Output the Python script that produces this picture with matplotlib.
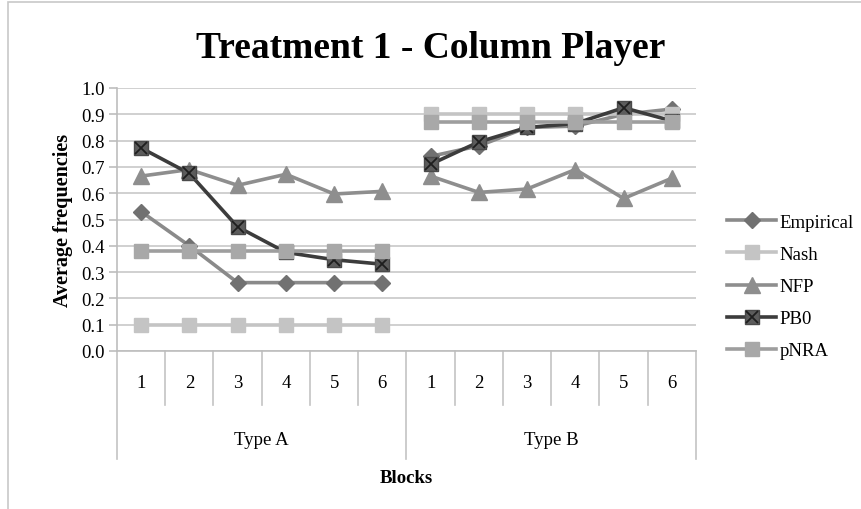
import matplotlib
matplotlib.use("Agg")
import matplotlib.pyplot as plt
from matplotlib.lines import Line2D
from matplotlib.patches import Rectangle
from matplotlib.legend_handler import HandlerTuple
import numpy as np

plt.rcParams["font.family"] = ["Liberation Serif", "DejaVu Serif"]

# average frequencies per block, type A then type B
blocks = ["1", "2", "3", "4", "5", "6"]
groups = ["Type A", "Type B"]

empirical_a = [0.53, 0.40, 0.26, 0.26, 0.26, 0.26]
empirical_b = [0.74, 0.78, 0.85, 0.855, 0.90, 0.92]
nash_a = [0.10, 0.10, 0.10, 0.10, 0.10, 0.10]
nash_b = [0.90, 0.90, 0.90, 0.90, 0.90, 0.90]
nfp_a = [0.665, 0.69, 0.63, 0.672, 0.597, 0.607]
nfp_b = [0.665, 0.603, 0.616, 0.69, 0.58, 0.657]
pb0_a = [0.772, 0.675, 0.472, 0.375, 0.347, 0.33]
pb0_b = [0.71, 0.795, 0.85, 0.865, 0.925, 0.875]
pnra_a = [0.38, 0.38, 0.38, 0.38, 0.38, 0.38]
pnra_b = [0.87, 0.87, 0.87, 0.87, 0.87, 0.87]

FS = 13.5

fig = plt.figure(figsize=(8.62, 5.10), dpi=100)
fig.patches.append(Rectangle((8 / 862, -0.01), 1.0, 1.0 - 3 / 510 + 0.01,
                             transform=fig.transFigure, fill=False,
                             edgecolor="#c8c8c8", linewidth=1.2))
ax = fig.add_axes([117 / 862, 158 / 510, 579 / 862, 263 / 510])

n = len(blocks)
xa = np.arange(n)
xb = np.arange(n) + n

styles = {
    "Empirical": dict(color="#8a8a8a", marker="D", markersize=8,
                      markerfacecolor="#717171", markeredgecolor="#717171"),
    "Nash": dict(color="#c4c4c4", marker="s", markersize=10,
                 markerfacecolor="#c4c4c4", markeredgecolor="#c4c4c4"),
    "NFP": dict(color="#8e8e8e", marker="^", markersize=11,
                markerfacecolor="#8e8e8e", markeredgecolor="#8e8e8e"),
    "PB0": dict(color="#3c3c3c", marker="s", markersize=10,
                markerfacecolor="#5c5c5c", markeredgecolor="#4a4a4a"),
    "pNRA": dict(color="#9e9e9e", marker="s", markersize=10,
                 markerfacecolor="#a8a8a8", markeredgecolor="#a8a8a8"),
}
series = [
    ("Empirical", empirical_a, empirical_b),
    ("Nash", nash_a, nash_b),
    ("NFP", nfp_a, nfp_b),
    ("PB0", pb0_a, pb0_b),
    ("pNRA", pnra_a, pnra_b),
]

handles = []
for name, va, vb in series:
    st = styles[name]
    for x, v in ((xa, va), (xb, vb)):
        ax.plot(x, v, linewidth=2.6, zorder=3, **st)
        if name == "PB0":
            ax.plot(x, v, linestyle="none", marker="x", markersize=9,
                    markeredgecolor="#1e1e1e", markeredgewidth=1.3, zorder=3)
    h = Line2D([], [], linewidth=2.6, **st)
    if name == "PB0":
        hx = Line2D([], [], linestyle="none", marker="x", markersize=9,
                    markeredgecolor="#1e1e1e", markeredgewidth=1.3)
        handles.append((h, hx))
    else:
        handles.append(h)

ax.set_xlim(-0.5, 2 * n - 0.5)
ax.set_ylim(0, 1.0)
ax.set_yticks(np.arange(0, 1.01, 0.1))
ax.set_yticklabels([f"{t:.1f}" for t in np.arange(0, 1.01, 0.1)], fontsize=FS)
ax.yaxis.grid(True, color="#c8c8c8", linewidth=1.2)
ax.set_axisbelow(True)
for s in ["top", "right"]:
    ax.spines[s].set_visible(False)
ax.spines["left"].set_color("#bdbdbd")
ax.spines["bottom"].set_color("#bdbdbd")
ax.spines["left"].set_linewidth(1.2)
ax.spines["bottom"].set_linewidth(1.2)
ax.tick_params(axis="y", length=6, width=1.2, color="#bdbdbd", pad=3)
ax.set_xticks([])

# two-level category axis below the plot
tr = ax.get_xaxis_transform()
for i in range(2 * n + 1):
    pos = i - 0.5
    depth = -0.41 if i % n == 0 else -0.205
    ax.plot([pos, pos], [0, depth], transform=tr, clip_on=False,
            color="#c4c4c4", linewidth=1.2)
for g, label in enumerate(groups):
    for j, b in enumerate(blocks):
        ax.text(g * n + j, -0.12, b, transform=tr, ha="center", va="center",
                fontsize=FS)
    ax.text(g * n + (n - 1) / 2, -0.335, label, transform=tr, ha="center",
            va="center", fontsize=FS)
ax.text(0.5, -0.48, "Blocks", transform=ax.transAxes, ha="center",
        va="center", fontsize=FS, fontweight="bold")

ax.set_ylabel("Average frequencies", fontsize=14.5, fontweight="bold",
              labelpad=6)
fig.text(0.5, 0.905, "Treatment 1 - Column Player", ha="center",
         va="center", fontsize=27, fontweight="bold")

ax.legend(handles, [s[0] for s in series], loc="center left",
          bbox_to_anchor=(1.025, 0.245), frameon=False, fontsize=FS,
          handlelength=2.6, handletextpad=0.2, labelspacing=0.8,
          handler_map={tuple: HandlerTuple(ndivide=1)})

fig.savefig("out.png", dpi=100)
